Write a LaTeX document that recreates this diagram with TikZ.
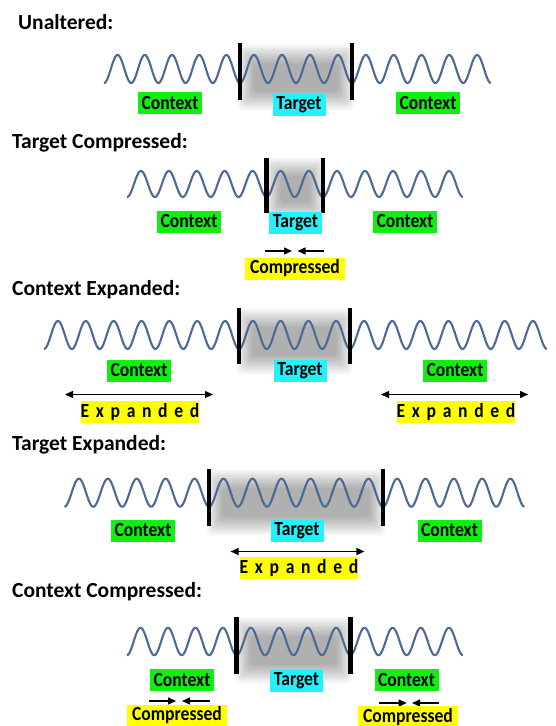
\documentclass[tikz,border=0pt]{standalone}
\usepackage{fontspec}
\setmainfont{Carlito}
\newfontfamily\lblfont[FakeStretch=0.88]{Carlito}
\usetikzlibrary{arrows.meta}
\definecolor{wavecol}{HTML}{4C6A94}
\definecolor{ctxgreen}{HTML}{10F010}
\definecolor{tgtcyan}{HTML}{20F2FA}
\definecolor{cmpyellow}{HTML}{FFFF00}
\tikzset{
    title/.style={anchor=base west, inner sep=0pt, font=\fontsize{21.5}{21.5}\selectfont\bfseries},
    lbl/.style={inner sep=0pt, minimum height=22pt, text=black, font=\lblfont\fontsize{20}{20}\selectfont\bfseries},
    ctxbox/.style={lbl, fill=ctxgreen, minimum width=64pt},
    tgtbox/.style={lbl, fill=tgtcyan, minimum width=53pt},
    cmpbox/.style={lbl, fill=cmpyellow, minimum width=100pt},
    expbox/.style={lbl, fill=cmpyellow, minimum width=112pt},
    wave/.style={draw=wavecol, line width=2.1pt},
    bar/.style={draw=black, line width=4.5pt},
    haze/.style={fill=black, opacity=0.045},
    arrow/.style={-{Triangle[length=8pt,width=7pt]}, line width=1.3pt},
    dblarrow/.style={{Triangle[length=8pt,width=7pt]}-{Triangle[length=8pt,width=7pt]}, line width=1.3pt}
}
% #1 start x, #2 end x, #3 periods, #4 centre y, #5 amplitude
\newcommand{\wavepart}[5]{%
    \draw[wave] plot[domain=0:1, samples=200, smooth] ({#1+(#2-#1)*\x}, {#4+#5*cos(360*#3*\x)});
}
% #1 left x, #2 right x, #3 top y, #4 bottom y
\newcommand{\targetshade}[4]{%
    \foreach \i in {0,...,7}
        \fill[haze, rounded corners=4pt] ({#1+\i*2.2},{#3+\i*2.6}) rectangle ({#2-\i*2.2},{#4-\i*2.6});
}
\newcommand{\xpd}{E\,\,x\,\,p\,\,a\,\,n\,\,d\,\,e\,\,d}

\begin{document}
\begin{tikzpicture}[x=1pt, y=-1pt]
    \useasboundingbox[fill=white] (0,0) rectangle (555,726);

    % unaltered
    \node[title] (ttlA) at (18,29.5) {Unaltered:};
    \targetshade{238}{354}{45}{110}
    \wavepart{104}{240}{5}{69}{14}
    \wavepart{240}{352}{4}{69}{14}
    \wavepart{352}{491}{5}{69}{14}
    \draw[bar] (240,43) -- (240,100);
    \draw[bar] (352,43) -- (352,100);
    \node[ctxbox] (ctxAl) at (170,103) {Context};
    \node[tgtbox] (tgtA) at (299,104.5) {Target};
    \node[ctxbox] (ctxAr) at (428,103) {Context};

    % target compressed
    \node[title] (ttlB) at (12,148) {Target Compressed:};
    \targetshade{265}{325}{158}{221}
    \wavepart{127}{266.5}{5}{184}{13}
    \wavepart{266.5}{323}{2}{184}{13}
    \wavepart{323}{463}{5}{184}{13}
    \draw[bar] (266.5,158) -- (266.5,213);
    \draw[bar] (323,158) -- (323,213);
    \node[ctxbox] (ctxBl) at (189,221.5) {Context};
    \node[tgtbox] (tgtB) at (295.5,222.5) {Target};
    \node[ctxbox] (ctxBr) at (405,221.5) {Context};
    \node[cmpbox] (cmpB) at (295,268.5) {Compressed};
    \coordinate (cmpBa) at (265,251);
    \coordinate (cmpBb) at (292,251);
    \coordinate (cmpBc) at (324,251);
    \coordinate (cmpBd) at (297.5,251);
    \draw[arrow] (cmpBa) -- (cmpBb);
    \draw[arrow] (cmpBc) -- (cmpBd);

    % context expanded
    \node[title] (ttlC) at (12,295) {Context Expanded:};
    \targetshade{237}{352}{309}{374}
    \wavepart{44}{239}{7}{335}{14}
    \wavepart{239}{350}{4}{335}{14}
    \wavepart{350}{547}{7}{335}{14}
    \draw[bar] (239,307.5) -- (239,364);
    \draw[bar] (350,307.5) -- (350,364);
    \node[ctxbox] (ctxCl) at (139,370.5) {Context};
    \node[tgtbox] (tgtC) at (300,371) {Target};
    \node[ctxbox] (ctxCr) at (455,370.5) {Context};
    \coordinate (expCa) at (65,394.5);
    \coordinate (expCb) at (213,394.5);
    \coordinate (expCc) at (381,394.5);
    \coordinate (expCd) at (528,394.5);
    \draw[dblarrow] (expCa) -- (expCb);
    \draw[dblarrow] (expCc) -- (expCd);
    \node[expbox] (expCl) at (140,412) {\xpd};
    \node[expbox] (expCr) at (456,412) {\xpd};

    % target expanded
    \node[title] (ttlD) at (12,450) {Target Expanded:};
    \targetshade{207}{385}{470}{535}
    \wavepart{64.4}{209}{5}{492.7}{14}
    \wavepart{209}{383}{6}{492.7}{14}
    \wavepart{383}{524.6}{5}{492.7}{14}
    \draw[bar] (209,469.4) -- (209,525.8);
    \draw[bar] (383,469.4) -- (383,525.8);
    \node[ctxbox] (ctxDl) at (143,530.5) {Context};
    \node[tgtbox] (tgtD) at (297,531) {Target};
    \node[ctxbox] (ctxDr) at (449.5,530.5) {Context};
    \coordinate (expDa) at (230.6,551.5);
    \coordinate (expDb) at (364.4,551.5);
    \draw[dblarrow] (expDa) -- (expDb);
    \node[expbox] (expD) at (299,568) {\xpd};

    % context compressed
    \node[title] (ttlE) at (12,597) {Context Compressed:};
    \targetshade{235}{352}{618}{683}
    \wavepart{126.8}{236.6}{4}{641.5}{13.7}
    \wavepart{236.6}{350.4}{4}{641.5}{13.7}
    \wavepart{350.4}{463}{4}{641.5}{13.7}
    \draw[bar] (236.6,616.5) -- (236.6,673.6);
    \draw[bar] (350.4,616.5) -- (350.4,673.6);
    \node[ctxbox] (ctxEl) at (182,680) {Context};
    \node[tgtbox] (tgtE) at (296.5,681) {Target};
    \node[ctxbox] (ctxEr) at (406.5,680) {Context};
    \coordinate (cmpEa) at (149,701);
    \coordinate (cmpEb) at (176,701);
    \coordinate (cmpEc) at (210,701);
    \coordinate (cmpEd) at (182,701);
    \coordinate (cmpEe) at (378.5,703);
    \coordinate (cmpEf) at (406.7,703);
    \coordinate (cmpEg) at (439,703);
    \coordinate (cmpEh) at (412,703);
    \draw[arrow] (cmpEa) -- (cmpEb);
    \draw[arrow] (cmpEc) -- (cmpEd);
    \draw[arrow] (cmpEe) -- (cmpEf);
    \draw[arrow] (cmpEg) -- (cmpEh);
    \node[cmpbox] (cmpEl) at (177,715.5) {Compressed};
    \node[cmpbox] (cmpEr) at (408,717) {Compressed};
\end{tikzpicture}
\end{document}
